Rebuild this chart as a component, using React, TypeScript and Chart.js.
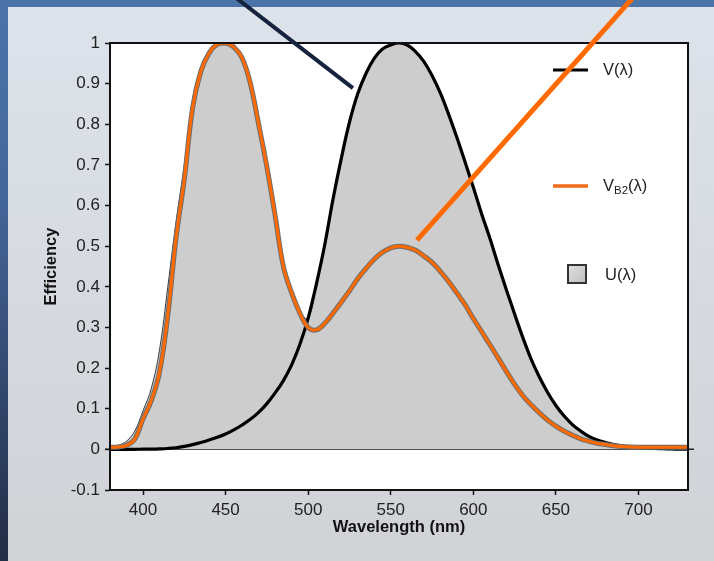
import React, { useEffect, useRef } from "react";
import { Chart, registerables } from "chart.js";

Chart.register(...registerables);

const wavelengths = [
  380, 385, 390, 395, 400, 405, 410, 415, 420, 425, 430, 435, 440, 445, 450, 455, 460, 465,
  470, 475, 480, 485, 490, 495, 500, 505, 510, 515, 520, 525, 530, 535, 540, 545, 550, 555,
  560, 565, 570, 575, 580, 585, 590, 595, 600, 605, 610, 615, 620, 625, 630, 635, 640, 645,
  650, 655, 660, 665, 670, 675, 680, 685, 690, 695, 700, 705, 710, 715, 720, 725, 730,
];

// V(λ)
const vValues = [
  0.000039, 0.000064, 0.00012, 0.000217, 0.000396, 0.00064, 0.00121, 0.00218, 0.004, 0.0073,
  0.0116, 0.01684, 0.023, 0.0298, 0.038, 0.048, 0.06, 0.0739, 0.091, 0.1126, 0.139, 0.1693,
  0.208, 0.2586, 0.323, 0.4073, 0.503, 0.615, 0.715, 0.805, 0.875, 0.925, 0.962, 0.985, 0.995,
  1.0, 0.995, 0.979, 0.955, 0.92, 0.877, 0.825, 0.768, 0.707, 0.645, 0.58, 0.52, 0.455, 0.393,
  0.333, 0.275, 0.222, 0.178, 0.14, 0.108, 0.082, 0.061, 0.045, 0.032, 0.0232, 0.017, 0.012,
  0.0082, 0.0057, 0.0041, 0.0029, 0.0021, 0.0015, 0.001, 0.0007, 0.0005,
];

// V_B2(λ)
const vb2Values = [
  0.005, 0.006, 0.01, 0.025, 0.075, 0.12, 0.19, 0.33, 0.52, 0.665, 0.84, 0.93, 0.975, 0.997,
  1.0, 0.99, 0.963, 0.9, 0.8, 0.695, 0.575, 0.45, 0.385, 0.335, 0.3, 0.294, 0.31, 0.335,
  0.362, 0.39, 0.42, 0.445, 0.468, 0.485, 0.496, 0.5, 0.497, 0.49, 0.476, 0.46, 0.438, 0.413,
  0.385, 0.356, 0.322, 0.29, 0.258, 0.225, 0.192, 0.16, 0.132, 0.11, 0.09, 0.072, 0.057,
  0.045, 0.035, 0.026, 0.02, 0.015, 0.012, 0.009, 0.007, 0.006, 0.005, 0.005, 0.005, 0.005,
  0.005, 0.005, 0.005,
];

// U(λ)
const uValues = [
  0.006, 0.01, 0.02, 0.045, 0.095, 0.15, 0.245, 0.4, 0.56, 0.7, 0.86, 0.94, 0.98, 0.998, 1.0,
  0.99, 0.963, 0.9, 0.8, 0.695, 0.575, 0.45, 0.385, 0.335, 0.323, 0.4073, 0.503, 0.615, 0.715,
  0.805, 0.875, 0.925, 0.962, 0.985, 0.995, 1.0, 0.995, 0.979, 0.955, 0.92, 0.877, 0.825,
  0.768, 0.707, 0.645, 0.58, 0.52, 0.455, 0.393, 0.333, 0.275, 0.222, 0.178, 0.14, 0.108,
  0.082, 0.061, 0.045, 0.032, 0.0232, 0.017, 0.012, 0.0085, 0.0065, 0.0055, 0.005, 0.005,
  0.005, 0.005, 0.005, 0.005,
];

const xTicks = [400, 450, 500, 550, 600, 650, 700];
const yTicks = [-0.1, 0, 0.1, 0.2, 0.3, 0.4, 0.5, 0.6, 0.7, 0.8, 0.9, 1];
const yTickLabels = ["-0.1", "0", "0.1", "0.2", "0.3", "0.4", "0.5", "0.6", "0.7", "0.8", "0.9", "1"];

const xTitle = "Wavelength (nm)";
const yTitle = "Efficiency";

// pointer lines (wavelength, efficiency) endpoints
const navyPointer = [
  [453.5, 1.12],
  [527.1, 0.889],
];
const orangePointer = [
  [698.5, 1.12],
  [565.9, 0.515],
];

const FONT = "'Liberation Sans', Arial, sans-serif";

const toPoints = (ys: number[]) => wavelengths.map((x, i) => ({ x, y: ys[i] }));

const decorPlugin = {
  id: "decor",
  beforeDraw(chart: any) {
    const { ctx, width, height, chartArea: ca } = chart;
    ctx.save();
    let g = ctx.createLinearGradient(0, 0, 0, height);
    g.addColorStop(0, "#4b74a9");
    g.addColorStop(0.35, "#44669a");
    g.addColorStop(1, "#232d45");
    ctx.fillStyle = g;
    ctx.fillRect(0, 0, width, height);
    g = ctx.createLinearGradient(0, 7, 0, height);
    g.addColorStop(0, "#dde3eb");
    g.addColorStop(1, "#d0d2d6");
    ctx.fillStyle = g;
    ctx.fillRect(8, 7, width - 8, height - 7);
    ctx.fillStyle = "#ffffff";
    ctx.fillRect(ca.left, ca.top, ca.right - ca.left, ca.bottom - ca.top);
    ctx.restore();
  },
  beforeDatasetsDraw(chart: any) {
    const { ctx, chartArea: ca, scales } = chart;
    const y0 = scales.y.getPixelForValue(0);
    ctx.save();
    ctx.strokeStyle = "#222";
    ctx.lineWidth = 1.5;
    ctx.beginPath();
    ctx.moveTo(ca.left - 5, y0);
    ctx.lineTo(ca.right + 6, y0);
    ctx.stroke();
    ctx.restore();
  },
  afterDatasetsDraw(chart: any) {
    const { ctx, chartArea: ca } = chart;
    ctx.save();
    ctx.strokeStyle = "#111";
    ctx.lineWidth = 2;
    ctx.strokeRect(ca.left, ca.top, ca.right - ca.left, ca.bottom - ca.top);

    // legend
    const lx1 = ca.right - 135;
    const lx2 = ca.right - 100;
    const tx = ca.right - 85;
    const y1 = ca.top + 27;
    const y2 = ca.top + 143;
    const y3 = ca.top + 231;
    ctx.lineCap = "butt";
    ctx.strokeStyle = "#000";
    ctx.lineWidth = 3;
    ctx.beginPath();
    ctx.moveTo(lx1, y1);
    ctx.lineTo(lx2, y1);
    ctx.stroke();
    ctx.strokeStyle = "#f26a1b";
    ctx.lineWidth = 3.5;
    ctx.beginPath();
    ctx.moveTo(lx1, y2);
    ctx.lineTo(lx2, y2);
    ctx.stroke();

    ctx.fillStyle = "#222";
    ctx.textBaseline = "middle";
    ctx.textAlign = "left";
    ctx.font = `16.5px ${FONT}`;
    ctx.fillText("V(λ)", tx, y1);
    ctx.fillText("V", tx, y2);
    let w = ctx.measureText("V").width;
    ctx.font = `11.5px ${FONT}`;
    ctx.fillText("B2", tx + w, y2 + 5);
    w += ctx.measureText("B2").width;
    ctx.font = `16.5px ${FONT}`;
    ctx.fillText("(λ)", tx + w, y2);

    const bx = lx1 + 15;
    const g = ctx.createLinearGradient(bx, y3 - 9, bx + 18, y3 + 9);
    g.addColorStop(0, "#e2e2e2");
    g.addColorStop(1, "#bdbdbd");
    ctx.fillStyle = g;
    ctx.fillRect(bx, y3 - 9, 18, 18);
    ctx.strokeStyle = "#333";
    ctx.lineWidth = 2;
    ctx.strokeRect(bx, y3 - 9, 18, 18);
    ctx.fillStyle = "#222";
    ctx.font = `16.5px ${FONT}`;
    ctx.fillText("U(λ)", tx + 2, y3 + 1);
    ctx.restore();
  },
  afterDraw(chart: any) {
    const { ctx, scales } = chart;
    const line = (pts: number[][], color: string, width: number) => {
      ctx.save();
      ctx.strokeStyle = color;
      ctx.lineWidth = width;
      ctx.lineCap = "butt";
      ctx.beginPath();
      ctx.moveTo(scales.x.getPixelForValue(pts[0][0]), scales.y.getPixelForValue(pts[0][1]));
      ctx.lineTo(scales.x.getPixelForValue(pts[1][0]), scales.y.getPixelForValue(pts[1][1]));
      ctx.stroke();
      ctx.restore();
    };
    line(navyPointer, "#16233f", 4);
    line(orangePointer, "#ff6a00", 5);
  },
};

export default function App() {
  const ref = useRef<HTMLCanvasElement | null>(null);

  useEffect(() => {
    if (!ref.current) return;
    const common = { pointRadius: 0, tension: 0.4, cubicInterpolationMode: "default" };
    const chart = new Chart(ref.current, {
      type: "line",
      data: {
        datasets: [
          {
            ...common,
            label: "VB2 (λ)",
            data: toPoints(vb2Values),
            borderColor: "#ff6a00",
            borderWidth: 3,
            fill: false,
            order: 1,
          },
          {
            ...common,
            label: "VB2 outline",
            data: toPoints(vb2Values),
            borderColor: "#6e6e6e",
            borderWidth: 5,
            fill: false,
            order: 2,
          },
          {
            ...common,
            label: "V(λ)",
            data: toPoints(vValues),
            borderColor: "#000000",
            borderWidth: 3.2,
            fill: false,
            order: 3,
          },
          {
            ...common,
            label: "U(λ)",
            data: toPoints(uValues),
            borderColor: "#3a3a3a",
            borderWidth: 1,
            backgroundColor: "#cdcdcd",
            fill: "origin",
            order: 4,
          },
        ],
      },
      options: {
        responsive: false,
        animation: false,
        devicePixelRatio: 1,
        layout: { padding: { left: 0, top: 43, right: 26, bottom: 0 } },
        plugins: {
          legend: { display: false },
          tooltip: { enabled: false },
        },
        scales: {
          x: {
            type: "linear",
            min: 380,
            max: 730,
            afterBuildTicks: (scale: any) => {
              scale.ticks = xTicks.map((v) => ({ value: v }));
            },
            afterFit: (scale: any) => {
              scale.height = 71;
            },
            grid: {
              drawOnChartArea: false,
              drawTicks: true,
              tickLength: 5,
              tickColor: "#111",
              tickWidth: 1.5,
            },
            border: { display: true, color: "#111", width: 2 },
            ticks: {
              autoSkip: false,
              maxRotation: 0,
              padding: 5,
              color: "#222",
              font: { family: FONT, size: 17 },
              callback: (v: any) => String(v),
            },
            title: {
              display: true,
              text: xTitle,
              color: "#111",
              font: { family: FONT, size: 16.5, weight: "bold" },
              padding: { top: 0, bottom: 24 },
            },
          },
          y: {
            type: "linear",
            min: -0.1,
            max: 1,
            afterBuildTicks: (scale: any) => {
              scale.ticks = yTicks.map((v) => ({ value: v }));
            },
            afterFit: (scale: any) => {
              scale.width = 110;
            },
            grid: {
              drawOnChartArea: false,
              drawTicks: true,
              tickLength: 5,
              tickColor: "#111",
              tickWidth: 1.5,
            },
            border: { display: true, color: "#111", width: 2 },
            ticks: {
              autoSkip: false,
              padding: 5,
              color: "#222",
              font: { family: FONT, size: 17 },
              callback: (_v: any, i: number) => yTickLabels[i],
            },
            title: {
              display: true,
              text: yTitle,
              color: "#111",
              font: { family: FONT, size: 16.5, weight: "bold" },
              padding: { top: 42, bottom: 0 },
            },
          },
        },
      },
      plugins: [decorPlugin],
    } as any);
    return () => chart.destroy();
  }, []);

  return (
    <div style={{ position: "fixed", left: 0, top: 0, width: 714, height: 561 }}>
      <canvas ref={ref} width={714} height={561} style={{ display: "block", width: 714, height: 561 }} />
    </div>
  );
}
